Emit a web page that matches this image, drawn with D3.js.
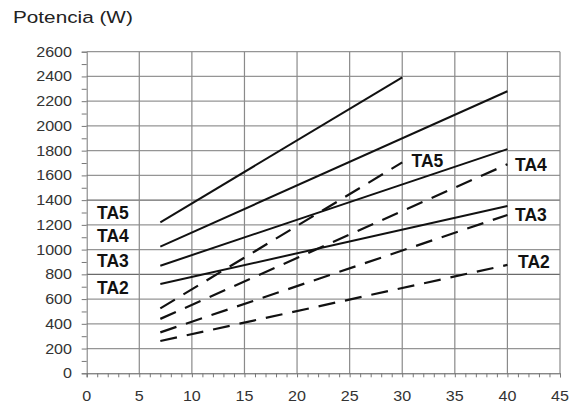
<!DOCTYPE html>
<html><head><meta charset="utf-8">
<script src="https://cdn.jsdelivr.net/npm/d3@7"></script>
<style>body{margin:0;background:#fff}</style>
</head><body>
<svg id="c" width="574" height="407"></svg>
<script>
const xTicks = [0,5,10,15,20,25,30,35,40,45];
const yTicks = [0,200,400,600,800,1000,1200,1400,1600,1800,2000,2200,2400,2600];
const seriesNames = ["TA5","TA4","TA3","TA2"];
const solidX = [[7,30],[7,40],[7,40],[7,40]];
const solidY = [[1221,2392],[1024,2280],[870,1812],[722,1352]];
const dashedX = [[7,30],[7,40],[7,40],[7,40]];
const dashedY = [[525,1705],[440,1690],[331,1280],[261,876]];
const leftLabels = ["TA5","TA4","TA3","TA2"];
const rightLabels = ["TA5","TA4","TA3","TA2"];

const svg = d3.select("#c");
const x = d3.scaleLinear().domain([0,45]).range([86.7,560]);
const y = d3.scaleLinear().domain([0,2600]).range([373.3,51.7]);
const font = "'Liberation Sans', Arial, sans-serif";

// grid
svg.append("g").selectAll("line").data(yTicks.slice(1)).join("line")
  .attr("x1",x(0)).attr("x2",x(45)).attr("y1",d=>y(d)).attr("y2",d=>y(d))
  .attr("stroke",d=>(d===800||d===1400)?"#6a6a6a":"#959595").attr("stroke-width",1.2);
svg.append("g").selectAll("line").data(xTicks.slice(1)).join("line")
  .attr("x1",d=>x(d)).attr("x2",d=>x(d)).attr("y1",y(0)).attr("y2",y(2600))
  .attr("stroke","#8a8a8a").attr("stroke-width",1.2);

// axes
const yAxis = d3.axisLeft(y).tickValues(d3.range(0,2601,100)).tickSize(5).tickFormat("");
const gy = svg.append("g").attr("transform",`translate(${x(0)},0)`).call(yAxis);
gy.selectAll("path,line").attr("stroke","#777");
const xAxis = d3.axisBottom(x).tickValues(d3.range(0,46,1)).tickSize(4).tickFormat("");
const gx = svg.append("g").attr("transform",`translate(0,${y(0)})`).call(xAxis);
gx.selectAll("path,line").attr("stroke","#777");
gx.select("path").attr("stroke","#555");

// tick labels
svg.append("g").selectAll("text").data(yTicks).join("text")
  .attr("transform",d=>`translate(72,${y(d)+5}) scale(1.15,1)`)
  .attr("text-anchor","end").attr("font-family",font).attr("font-size",14).attr("fill","#333")
  .text(d=>d);
svg.append("g").selectAll("text").data(xTicks).join("text")
  .attr("transform",d=>`translate(${x(d)},401) scale(1.15,1)`)
  .attr("text-anchor","middle").attr("font-family",font).attr("font-size",14).attr("fill","#333")
  .text(d=>d);

// title
svg.append("text").attr("transform","translate(13,23) scale(1.22,1)")
  .attr("font-family",font).attr("font-size",17).attr("fill","#222").text("Potencia (W)");

// lines
const line = d3.line().x(d=>x(d[0])).y(d=>y(d[1]));
seriesNames.forEach((n,i)=>{
  svg.append("path").datum(solidX[i].map((v,j)=>[v,solidY[i][j]]))
    .attr("d",line).attr("fill","none").attr("stroke","#111").attr("stroke-width",2);
  svg.append("path").datum(dashedX[i].map((v,j)=>[v,dashedY[i][j]]))
    .attr("d",line).attr("fill","none").attr("stroke","#111").attr("stroke-width",2.2)
    .attr("stroke-dasharray","17,10");
});

// labels
const leftY = [219,242,267,294];
svg.append("g").selectAll("text").data(leftLabels).join("text")
  .attr("x",97).attr("y",(d,i)=>leftY[i])
  .attr("font-family",font).attr("font-weight","bold").attr("font-size",17.5).attr("fill","#111")
  .text(d=>d);
const rightPos = [[411.5,167],[515,171],[515,220.5],[518,268]];
svg.append("g").selectAll("text").data(rightLabels).join("text")
  .attr("x",(d,i)=>rightPos[i][0]).attr("y",(d,i)=>rightPos[i][1])
  .attr("font-family",font).attr("font-weight","bold").attr("font-size",17.5).attr("fill","#111")
  .text(d=>d);
</script>
</body></html>
